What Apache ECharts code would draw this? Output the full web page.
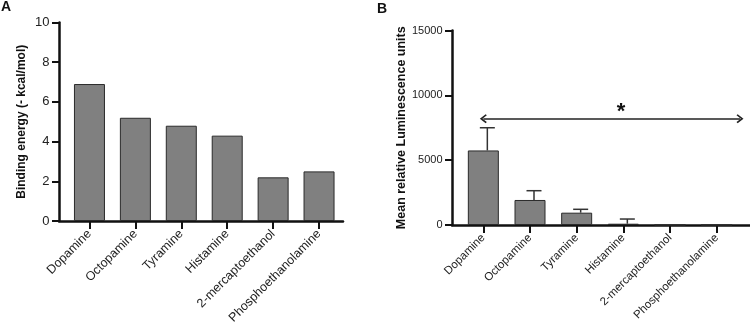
<!DOCTYPE html>
<html>
<head>
<meta charset="utf-8">
<title>Binding energy / Luminescence</title>
<script src="https://cdn.jsdelivr.net/npm/echarts@6/dist/echarts.min.js"></script>
<style>
  html, body { margin: 0; padding: 0; background: #fff; }
  #chart { width: 750px; height: 330px; }
</style>
</head>
<body>
<div id="chart"></div>
<script>
// data
const categories = ['Dopamine', 'Octopamine', 'Tyramine', 'Histamine', '2-mercaptoethanol', 'Phosphoethanolamine'];
const bindingEnergy = [6.9, 5.2, 4.8, 4.3, 2.2, 2.5];
const luminescence = [5750, 1930, 950, 100, 0, 0];
const luminescenceSD = [1750, 715, 260, 360, 0, 0];
const energyTicks = { min: 0, max: 10, interval: 2 };
const lumTicks = { min: 0, max: 15000, interval: 5000 };
const bracket = { from: 0, to: 5.5, value: 8200 };
const starAt = [2.95, 8750];

const font = 'Liberation Sans, Arial, sans-serif';
const ink = '#111';
const barFill = '#808080';

const chart = echarts.init(document.getElementById('chart'));

// each panel: a "frame" grid holding the axis lines, and a slightly narrower plot grid for the bars
const A = { frameLeft: 59, frameWidth: 284, left: 66.5, width: 275.5, top: 22.5, height: 198.5 };
const B = { frameLeft: 452, frameWidth: 298, left: 460, width: 280, top: 30.5, height: 194.5 };

function frameX(gridIndex) {
    return {
        type: 'value', gridIndex: gridIndex, min: 0, max: 1,
        axisLine: { show: true, onZero: false, lineStyle: { color: ink, width: 2.5 } },
        axisTick: { show: false }, axisLabel: { show: false }, splitLine: { show: false }
    };
}

function categoryX(gridIndex, fontSize) {
    return {
        type: 'category', gridIndex: gridIndex, data: categories,
        axisLine: { show: false, onZero: false },
        axisTick: { show: true, alignWithLabel: true, length: 8, lineStyle: { color: ink, width: 2 } },
        axisLabel: { interval: 0, rotate: 45, margin: 11, color: '#222', fontSize: fontSize, fontFamily: font }
    };
}

function frameY(gridIndex, ticks, name, nameGap, labelSize, nameSize) {
    return {
        type: 'value', gridIndex: gridIndex, min: ticks.min, max: ticks.max, interval: ticks.interval,
        name: name, nameLocation: 'middle', nameRotate: 90, nameGap: nameGap,
        nameTextStyle: { color: ink, fontWeight: 'bold', fontSize: nameSize, fontFamily: font },
        axisLine: { show: true, onZero: false, lineStyle: { color: ink, width: 2.5 } },
        axisTick: { show: true, inside: false, length: 7, lineStyle: { color: ink, width: 2 } },
        axisLabel: { margin: 9.5, color: '#222', fontSize: labelSize, fontFamily: font, formatter: v => String(v) },
        splitLine: { show: false }
    };
}

function hiddenY(gridIndex, ticks) {
    return { type: 'value', gridIndex: gridIndex, min: ticks.min, max: ticks.max, show: false, splitLine: { show: false } };
}

// error bars drawn above each bar
function errorBar(params, api) {
    const i = api.value(0);
    const mean = api.value(1);
    const sd = api.value(2);
    if (!sd) return null;
    const base = api.coord([i, mean]);
    const top = api.coord([i, mean + sd]);
    const x = base[0] + 4;
    const half = 7.5;
    const style = { stroke: '#333', lineWidth: 1.5 };
    return {
        type: 'group',
        children: [
            { type: 'line', shape: { x1: x, y1: base[1], x2: x, y2: top[1] }, style: style },
            { type: 'line', shape: { x1: x - half, y1: top[1], x2: x + half, y2: top[1] }, style: style }
        ]
    };
}

const chevron = 'path://M0,10 L10,0 L20,10 L17.5,12 L10,4.5 L2.5,12 Z';
const barStyle = { color: barFill, borderColor: '#2a2a2a', borderWidth: 1 };

chart.setOption({
    animation: false,
    backgroundColor: '#fff',
    title: [
        { text: 'A', left: 1, top: 0, padding: 0, textStyle: { fontSize: 14, fontWeight: 'bold', color: ink, fontFamily: font } },
        { text: 'B', left: 377, top: 2, padding: 0, textStyle: { fontSize: 14, fontWeight: 'bold', color: ink, fontFamily: font } }
    ],
    grid: [
        { left: A.frameLeft, top: A.top, width: A.frameWidth, height: A.height },
        { left: A.left, top: A.top, width: A.width, height: A.height },
        { left: B.frameLeft, top: B.top, width: B.frameWidth, height: B.height },
        { left: B.left, top: B.top, width: B.width, height: B.height }
    ],
    xAxis: [
        frameX(0),
        categoryX(1, 12.5),
        frameX(2),
        categoryX(3, 11.5),
        // hidden helper axis for the bracket annotation
        { type: 'value', gridIndex: 3, min: -0.5, max: 5.5, show: false, splitLine: { show: false } }
    ],
    yAxis: [
        frameY(0, energyTicks, 'Binding energy (- kcal/mol)', 31, 13, 12),
        hiddenY(1, energyTicks),
        frameY(2, lumTicks, 'Mean relative Luminescence units', 43, 11, 12.5),
        hiddenY(3, lumTicks)
    ],
    series: [
        { type: 'bar', xAxisIndex: 1, yAxisIndex: 1, data: bindingEnergy, barWidth: 31, itemStyle: barStyle },
        { type: 'bar', xAxisIndex: 3, yAxisIndex: 3, data: luminescence, barWidth: 31, itemStyle: barStyle },
        {
            type: 'custom', xAxisIndex: 3, yAxisIndex: 3, renderItem: errorBar, z: 3,
            data: luminescence.map((v, i) => [i, v, luminescenceSD[i]])
        },
        {
            type: 'line', xAxisIndex: 4, yAxisIndex: 3, data: [], silent: true,
            markLine: {
                silent: true, animation: false,
                symbol: [chevron, chevron], symbolSize: [9, 7],
                lineStyle: { color: '#222', width: 1.5, type: 'solid' },
                label: { show: false },
                data: [[{ coord: [bracket.from, bracket.value] }, { coord: [bracket.to, bracket.value] }]]
            },
            markPoint: {
                silent: true, symbol: 'circle', symbolSize: 0,
                label: { show: true, formatter: '*', color: ink, fontSize: 22, fontWeight: 'bold', fontFamily: font, position: 'inside' },
                data: [{ coord: starAt }]
            }
        }
    ]
});
</script>
</body>
</html>
